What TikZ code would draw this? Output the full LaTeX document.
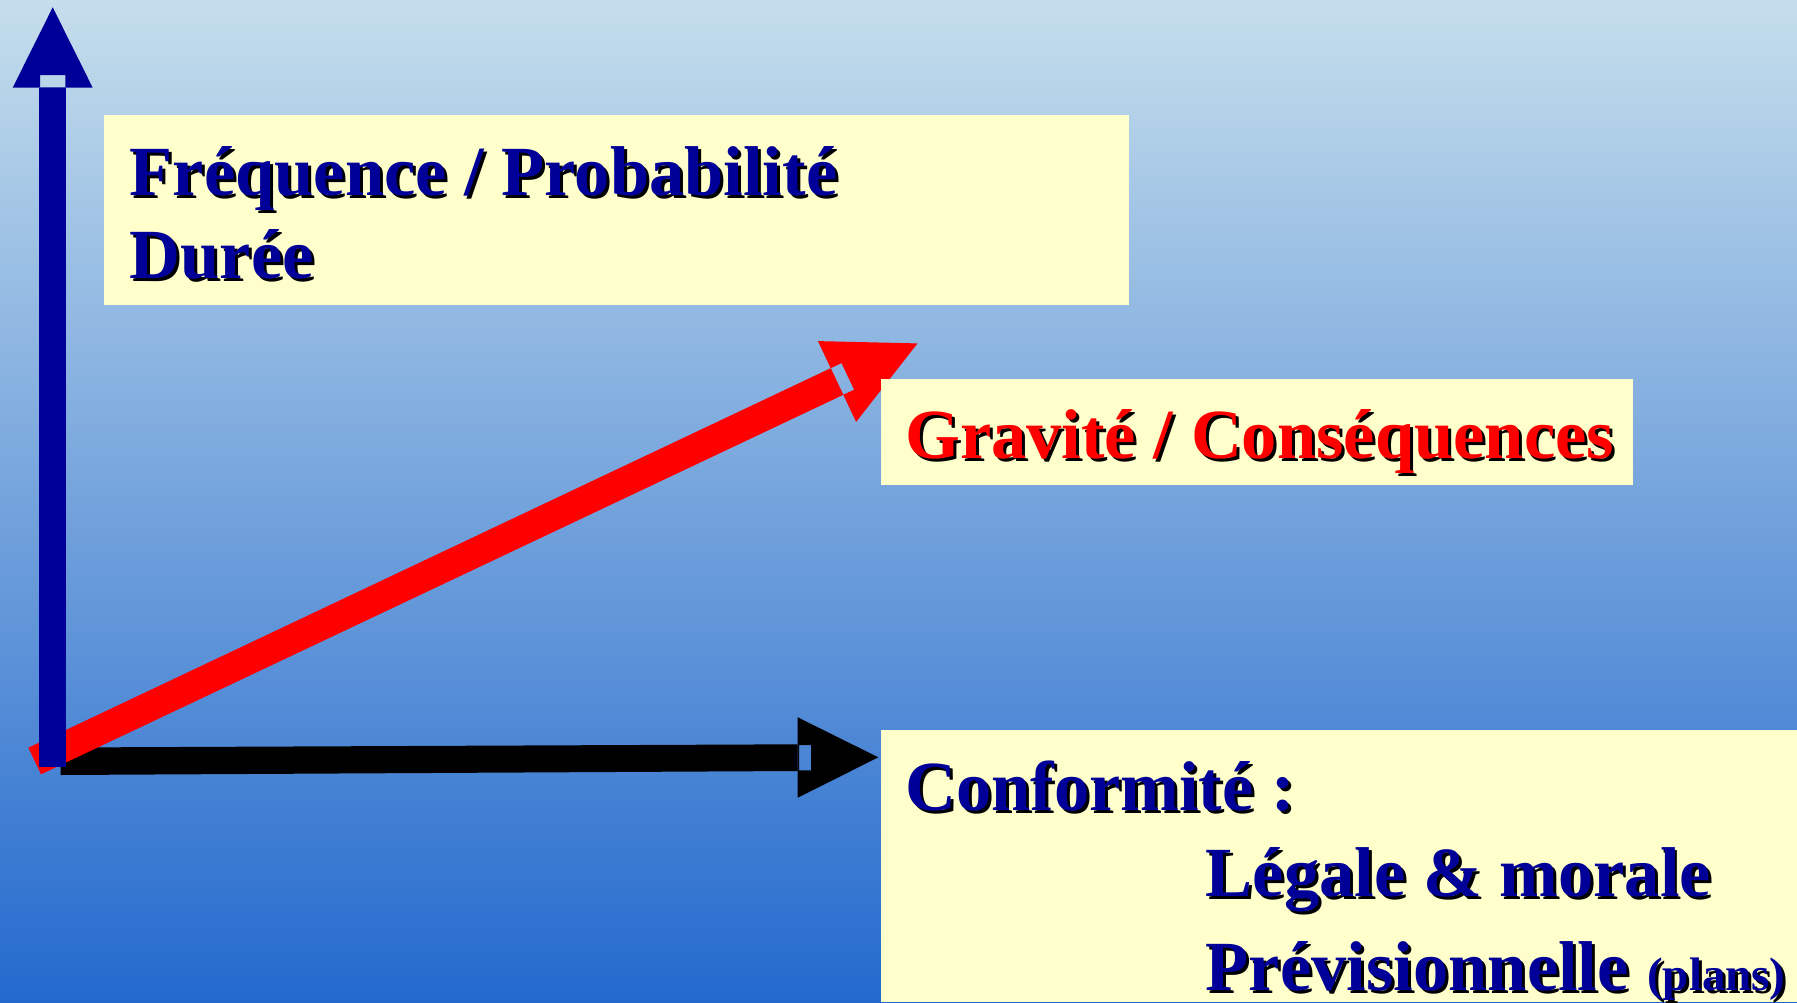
\documentclass[tikz,border=0pt]{standalone}
\usepackage{fontspec}
\setmainfont{Liberation Serif}
\usetikzlibrary{calc}
\definecolor{navyax}{RGB}{0,0,153}
\definecolor{redax}{RGB}{255,0,0}
\definecolor{boxfill}{RGB}{255,255,204}
\definecolor{bgtop}{RGB}{197,222,236}
\definecolor{bgmid}{RGB}{106,150,216}
\definecolor{bgbot}{RGB}{35,105,205}
\newcommand\shadtxt[2]{\makebox[0pt][l]{\hspace{3pt}\raisebox{-3pt}{\color{black}#2}}\textcolor{#1}{#2}}
\begin{document}
\begin{tikzpicture}[x=1pt,y=-1pt,
  labelbox/.style={fill=boxfill,draw=none},
  bigtxt/.style={anchor=base west,inner sep=0pt,font=\fontsize{70.5}{84}\selectfont\bfseries},
  smalltxt/.style={anchor=base west,inner sep=0pt,font=\fontsize{47}{56}\selectfont\bfseries}]
\useasboundingbox (0,0) rectangle (1797,1002);
\shade[top color=bgtop,middle color=bgmid,bottom color=bgbot] (0,0) rectangle (1797,1002);

% black horizontal axis
\coordinate (O) at (60.7,761);
\fill[black] (60.7,747.5) -- (797.7,744.3) -- (797.7,771) -- (60.7,775) -- cycle;
\fill[black,even odd rule] (797.7,717.3) -- (878.3,757.3) -- (797.7,797.7) -- cycle
  (799,745) rectangle (811,770.3);

% red diagonal axis
\fill[redax] (28.4,747.7) -- (830.7,368.2) -- (843.3,394.8) -- (41,774.3) -- cycle;
\fill[redax,even odd rule] (817.9,341.1) -- (917.5,343.4) -- (856.1,421.9) -- cycle
  (830.7,368.2) -- (841.5,363.1) -- (854.1,389.7) -- (843.3,394.8) -- cycle;

% blue vertical axis
\fill[navyax] (39.3,87.7) rectangle (66,767.3);
\fill[navyax,even odd rule] (12.7,87.7) -- (52.7,7.3) -- (92.7,87.7) -- cycle
  (40,75) rectangle (65.3,87.2);

% boxes
\fill[labelbox] (104,114.6) rectangle (1128.8,304.8);
\fill[labelbox] (881,379) rectangle (1633,485);
\fill[labelbox] (881,730) rectangle (1797,1002);

% texts
\node[bigtxt] (freq) at (129.5,195) {\shadtxt{navyax}{Fréquence / Probabilité}};
\node[bigtxt] (duree) at (129.5,278.5) {\shadtxt{navyax}{Durée}};
\node[bigtxt] (grav) at (905,458) {\shadtxt{redax}{Gravité / Conséquences}};
\node[bigtxt] (conf) at (905,810) {\shadtxt{navyax}{Conformité :}};
\node[bigtxt] (leg) at (1205.6,896) {\shadtxt{navyax}{Légale \& morale}};
\node[bigtxt] (prev) at (1205.6,990) {\shadtxt{navyax}{Prévisionnelle}};
\node[smalltxt] (plans) at (1647,990) {\shadtxt{navyax}{(plans)}};
\end{tikzpicture}
\end{document}
